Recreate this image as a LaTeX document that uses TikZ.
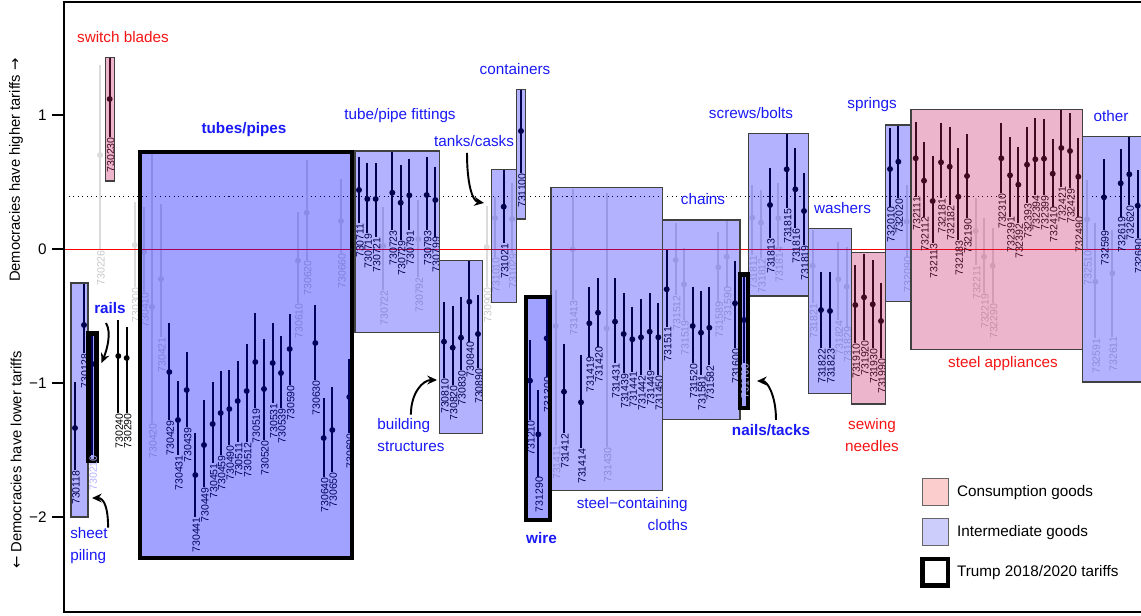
\documentclass[tikz,border=0pt]{standalone}
\usepackage{fontspec}
\setmainfont{Liberation Sans}
\newfontfamily\arrowfont{DejaVu Sans}
\usetikzlibrary{arrows,arrows.meta}

\definecolor{interfill}{RGB}{0,0,255}
\definecolor{consfill}{RGB}{200,30,100}
\definecolor{interlbl}{RGB}{25,25,245}
\definecolor{conslbl}{RGB}{245,20,20}
\definecolor{zeroline}{RGB}{255,0,0}
\definecolor{legpink}{RGB}{252,205,205}
\definecolor{legblue}{RGB}{205,205,252}

\tikzset{
  lbl/.style={font=\fontsize{8.7}{12.5}\selectfont, inner sep=0pt},
  bluelbl/.style={lbl, text=interlbl},
  redlbl/.style={lbl, text=conslbl},
  code/.style={font=\fontsize{6}{6}\selectfont, rotate=90, anchor=east, inner sep=0pt},
  ci/.style={line width=1pt},
  interbox/.style={draw=black!75, line width=0.6pt, fill=interfill, fill opacity=0.3},
  consbox/.style={draw=black!75, line width=0.6pt, fill=consfill, fill opacity=0.33},
  trumpbox/.style={draw=black, line width=2.3pt, fill=interfill, fill opacity=0.37},
  pointer/.style={-{Stealth[length=5.5pt,width=5pt]}, line width=1.1pt},
}

\begin{document}
\begin{tikzpicture}[x=0.02cm, y=-0.02cm]
\useasboundingbox (0,0) rectangle (1141,615);

% reference lines
\draw [dotted, line width=0.6pt] (64,196.7) -- (1141,196.7);

% codes without a difference
\foreach \x/\m/\t/\b/\c in {100/155/65/250/730226, 134.7/245/202/287/730300,
    144/252/207/292/730410, 152/307/154/423/730420, 161/279/204/337/730421,
    298/260.7/212/303/730610, 306.7/212.7/160/260/730620, 341/221/179/253/730660,
    383.3/246/207/290/730722, 418.3/239/200/277/730792, 486.7/247/206/287/730900,
    495/218/197/257/731010, 512/219/183/253/731029, 555.7/326/290/445/731411,
    572.7/249.3/189/300/731413, 606.7/328.3/193.3/447/731430, 675.7/260/223/295/731512,
    684/284.3/248/320/731519, 718.3/267.3/231.7/301.7/731589, 726.7/256.7/220/286.7/731590,
    752.3/217.7/185/255/731811, 761/222.7/190/258/731812, 778.3/218.3/183.3/246.7/731814,
    812.7/265.7/230/303.3/731821, 838.3/279.3/241.7/320/731824, 846.7/286.7/246.7/326.7/731829,
    906.7/221.7/185/256.7/732090, 975.7/231/198.3/265/732211, 984/256.7/217.7/293.3/732219,
    992.7/265.7/228.3/303.3/732290, 1087/219.3/180/250/732510, 1095.3/281.7/223.3/338.3/732591,
    1112.3/273.3/230/336.7/732611} {
  \draw [ci, black!14] (\x,\t) -- (\x,\b);
  \fill [black!14] (\x,\m) circle [radius=1.7pt];
  \node [code, text=black!22] (c\c) at ({\x+1},\b) {\c};
}
\draw [zeroline, line width=0.6pt] (64,249.3) -- (1141,249.3);

% codes with a difference
\foreach \x/\m/\t/\b/\c in {75/428/382/470/730118, 84/325/283/353/730128,
    109.7/99/57/137/730230, 118.3/356/320/413/730240, 126.7/358/327/413/730290,
    169.3/372/323/420/730429, 178/420/381/455/730431, 186.7/390/352/427/730439,
    195.3/475/433/517/730441, 204/445/400/487/730449, 212.7/424/382/463/730451,
    220.7/413/371/455/730459, 229.3/409/370/445/730490, 237.7/401/361/442/730511,
    246.7/391/344/442/730512, 255.3/362/313/408/730519, 264/389/339/440/730520,
    272.7/363/323/403/730531, 281/373/336/408/730539, 289.7/349/314/385/730590,
    315.3/343/305/380/730630, 323.7/438/398/477/730640, 332.3/430/387/472/730650,
    349.3/397/359/433/730690, 359/190/156.7/223/730711, 367.3/199/162.7/233/730719,
    375.7/199/163/237/730721, 392.3/192.7/151.7/230/730723, 400.7/202.7/165/240/730729,
    409.3/195.3/159.3/230/730791, 426.7/195/156.7/230/730793, 435.3/200/166.7/236.7/730799,
    444/341.7/301.7/378.3/730810, 452.7/347.7/305.7/385/730820, 461/337.7/296.7/370/730830,
    469.3/301.7/260.7/341.7/730840, 478/334/295/368.3/730890, 503.7/206.7/170/243.3/731021,
    521/131/89/173/731100, 530/380.7/340/420/731210, 538.3/434.3/390/476.7/731290,
    546.7/338.3/298/376.7/731300, 564/391.7/344/433.3/731412, 581/402.3/355/448.3/731414,
    589.3/323.3/287.3/356.7/731419, 598/312.7/278.3/346.7/731420, 615/321.7/278.3/363.3/731431,
    623.7/334/293.3/373.3/731439, 632.3/339.3/306.7/371.7/731441, 641/337.3/299.3/375/731442,
    649.7/331.7/293.3/370/731449, 658.3/337.3/303.3/375/731450, 666.7/289.3/250/326.7/731511,
    692.7/326/286.7/363.3/731520, 701/332.7/291/375/731581, 709.3/327.7/287.3/365/731582,
    735/303.3/261/348.3/731600, 770/205/168.3/238.3/731813, 786.7/169.3/133.3/208.3/731815,
    795.3/189.3/148.3/228.3/731816, 804/211/173.3/245/731819, 821/310/271.7/348.3/731822,
    830/311/271.7/348.3/731823, 855.3/305/265/343.3/731910, 864/297.3/254/340/731920,
    872.7/304.3/260/348.3/731930, 881/321/282.7/358.3/731990, 890/169/128.3/206.7/732010,
    898.3/161.7/125/198.3/732020, 915.7/158.3/121.7/196.7/732111, 924/180.7/141.7/216.7/732112,
    932.7/201/155.7/243.3/732113, 941/162.3/123.3/198.3/732181, 949.7/166.7/126.7/205/732182,
    958.3/196.7/148.3/240/732183, 967/176/134.3/218.3/732190, 1001.3/158.3/122.7/193.3/732310,
    1010/175.3/137.3/216.7/732391, 1018.3/184.7/146.7/223.3/732392, 1027/164.7/126.7/203.3/732393,
    1035.3/159.3/118.3/195/732394, 1044/158.7/119.3/195/732399, 1052.7/173.7/139/206.7/732410,
    1061.3/148/110/186.7/732421, 1070/151/113.3/188.3/732429, 1078.3/176.7/137.7/216.7/732490,
    1104/197.3/159.3/230/732599, 1120.7/183.3/149.3/216.7/732619, 1129.3/174.3/136.7/205/732620,
    1137.7/205.7/170/238.3/732690} {
  \draw [ci] (\x,\t) -- (\x,\b);
  \fill (\x,\m) circle [radius=1.7pt];
  \node [code] (c\c) at ({\x+1},\b) {\c};
}
% codes inside the narrow tariff boxes
\foreach \x/\m/\t/\b in {92.3/364/332/455, 744/320/276.7/363} {
  \draw [ci] (\x,\t) -- (\x,\b);
  \fill (\x,\m) circle [radius=1.7pt];
}

% product groups
\draw [consbox] (105.3,57.3) rectangle (114.3,181);
\draw [interbox] (71,283) rectangle (88,517);
\draw [interbox] (355,151) rectangle (439.3,332.7);
\draw [interbox] (439.3,260.7) rectangle (482.7,433.3);
\draw [interbox] (491.3,169.3) rectangle (516.7,302.3);
\draw [interbox] (516.7,89.3) rectangle (525.3,219);
\draw [interbox] (551,187.7) rectangle (662.7,490.7);
\draw [interbox] (662.3,220) rectangle (740,419.3);
\draw [interbox] (748.3,133.3) rectangle (808.3,296);
\draw [interbox] (808.3,228.3) rectangle (851.7,393.3);
\draw [consbox] (851.7,252.7) rectangle (885.3,404);
\draw [interbox] (885.3,125) rectangle (911,301.7);
\draw [consbox] (911,109.3) rectangle (1082.7,349.3);
\draw [interbox] (1082.7,136.7) rectangle (1160,382);

% Trump tariffs
\draw [trumpbox] (88.5,333.5) rectangle (96.5,461);
\draw [trumpbox] (140,152) rectangle (352,558);
\draw [trumpbox] (526,297) rectangle (550.3,520.3);
\draw [trumpbox] (740,274.5) rectangle (748.3,408);
\node [code, text=white!70!interfill] (c730210) at (93.3,455) {730210};
\node [code, text=white!70!interfill] (c731700) at (745,363) {731700};

% axes
\draw [line width=1.1pt] (1141,2) -- (64,2) -- (64,612) -- (1141,612);
\foreach \v/\t in {1/1, 0/0, -1/−1, -2/−2} {
  \draw [line width=1.1pt] (52,249.3-134*\v) -- (64,249.3-134*\v);
  \node [lbl, anchor=east] (tick\v) at (47,249.3-134*\v) {\t};
}
\node [lbl, font=\fontsize{8.4}{10}\selectfont, rotate=90] (ylabhi) at (16,170) {Democracies have higher tariffs {\arrowfont →}};
\node [lbl, font=\fontsize{8.4}{10}\selectfont, rotate=90] (ylablo) at (16,460) {{\arrowfont ←} Democracies have lower tariffs};

% group labels
\node [redlbl] (switch) at (123,37) {switch blades};
\node [bluelbl, align=left, anchor=west] (sheetpiling) at (70,546) {sheet\\piling};
\node [bluelbl, font=\fontsize{8.7}{12.5}\selectfont\bfseries] (rails) at (110,308) {rails};
\node [bluelbl, font=\fontsize{8.7}{12.5}\selectfont\bfseries] (tubes) at (244,130) {tubes/pipes};
\node [bluelbl] (fittings) at (400,116) {tube/pipe fittings};
\node [bluelbl, align=left, anchor=west] (building) at (377,435.5) {building\\structures};
\node [bluelbl] (tanks) at (474,141) {tanks/casks};
\node [bluelbl] (containers) at (515,69) {containers};
\node [bluelbl, font=\fontsize{8.7}{12.5}\selectfont\bfseries] (wire) at (541.5,538) {wire};
\node [bluelbl, align=right, anchor=east] (cloths) at (688,514) {steel−containing\\cloths};
\node [bluelbl] (chains) at (703,199) {chains};
\node [bluelbl, font=\fontsize{8.7}{12.5}\selectfont\bfseries] (nails) at (771,430) {nails/tacks};
\node [bluelbl] (screws) at (751,113) {screws/bolts};
\node [bluelbl] (washers) at (842.5,208) {washers};
\node [redlbl, align=center] (sewing) at (872,435) {sewing\\needles};
\node [bluelbl] (springs) at (872,105) {springs};
\node [redlbl] (appliances) at (1003,364) {steel appliances};
\node [bluelbl] (other) at (1111,116) {other};

% pointers
\coordinate (sheettip) at (92,498);
\coordinate (railstip) at (101.5,363);
\coordinate (buildtip) at (437,380);
\coordinate (tankstip) at (484,203);
\coordinate (nailstip) at (757,381);
\draw [pointer] (sheetpiling.north east) .. controls +(0,-20) and +(12,0) .. (sheettip);
\draw [pointer] (rails.south) ++(-4,9) .. controls +(6,10) and +(5,-12) .. (railstip);
\draw [pointer] (building.north) ++(0,-4) .. controls +(0,-22) and +(-14,0) .. (buildtip);
\draw [pointer] (tanks.south) ++(-7,6) .. controls +(0,30) and +(-12,-2) .. (tankstip);
\draw [pointer] (nails.north) ++(5,-4) .. controls +(0,-25) and +(10,0) .. (nailstip);

% legend
\draw [draw=black!60, fill=legpink] (922.3,478.3) rectangle (948.3,505);
\draw [draw=black!60, fill=legblue] (922.3,518.3) rectangle (948.3,545);
\draw [line width=2.3pt] (922.5,559) rectangle (948.2,585.5);
\node [lbl, anchor=west] (legcons) at (956.7,492.3) {Consumption goods};
\node [lbl, anchor=west] (leginter) at (956.7,532.7) {Intermediate goods};
\node [lbl, anchor=west] (legtrump) at (956.7,572.7) {Trump 2018/2020 tariffs};
\end{tikzpicture}
\end{document}
